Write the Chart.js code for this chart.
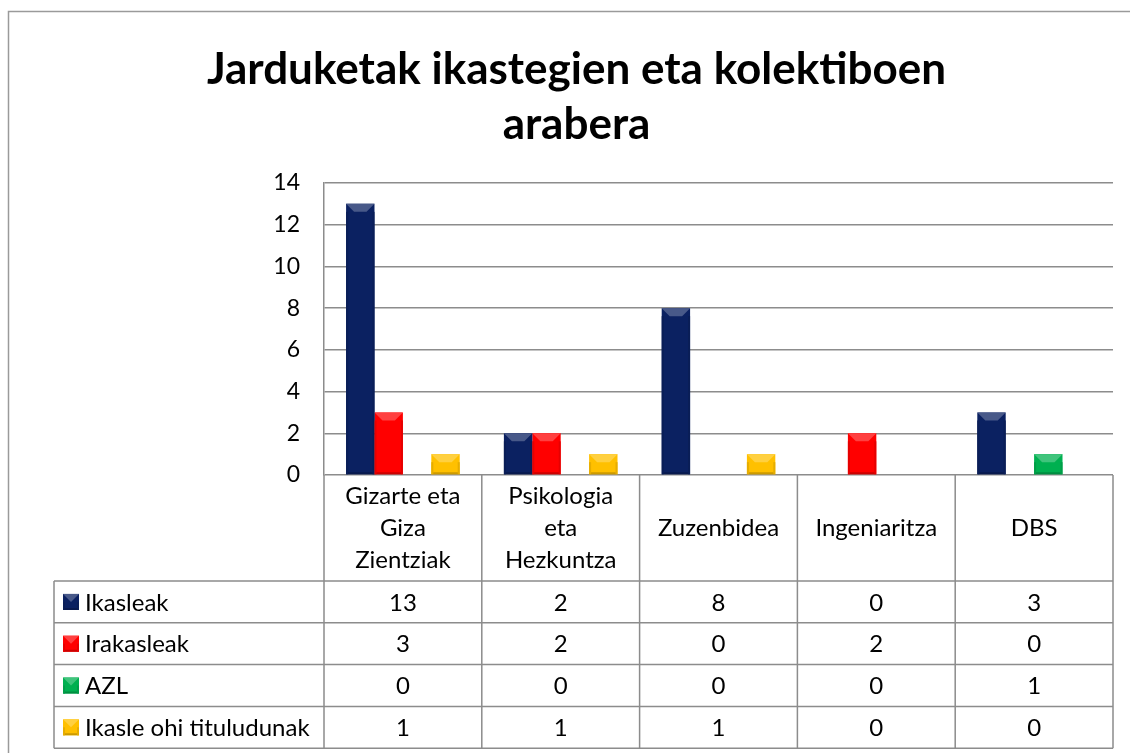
<!DOCTYPE html>
<html>
<head>
<meta charset="utf-8">
<script src="https://cdn.jsdelivr.net/npm/chart.js@4"></script>
<style>
  html, body { margin: 0; padding: 0; background: #fff; }
  #wrap { width: 1130px; height: 753px; }
</style>
</head>
<body>
<div id="wrap"><canvas id="chart" width="1130" height="753"></canvas></div>
<script>
const categories = [
  ["Gizarte eta", "Giza", "Zientziak"],
  ["Psikologia", "eta", "Hezkuntza"],
  ["Zuzenbidea"],
  ["Ingeniaritza"],
  ["DBS"]
];
const seriesNames = ["Ikasleak", "Irakasleak", "AZL", "Ikasle ohi tituludunak"];
const ikasleak = [13, 2, 8, 0, 3];
const irakasleak = [3, 2, 0, 2, 0];
const azl = [0, 0, 0, 0, 1];
const ikasleOhi = [1, 1, 1, 0, 0];
const yTicks = [0, 2, 4, 6, 8, 10, 12, 14];
const colors = ["#0b2161", "#ff0000", "#00b050", "#ffc000"];

const FONT = "Lato, 'Noto Sans', sans-serif";
const GRID = "#8c8c8c";

function shade(hex, amt) {
  const n = parseInt(hex.slice(1), 16);
  let r = (n >> 16) & 255, g = (n >> 8) & 255, b = n & 255;
  const f = c => Math.max(0, Math.min(255, Math.round(amt > 0 ? c + (255 - c) * amt : c * (1 + amt))));
  return "rgb(" + f(r) + "," + f(g) + "," + f(b) + ")";
}

function bevel(ctx, l, t, w, h, color) {
  if (h <= 0.5) return;
  const b = Math.min(8, h / 2, w / 2);
  ctx.save();
  ctx.fillStyle = shade(color, 0.25);
  ctx.beginPath();
  ctx.moveTo(l, t); ctx.lineTo(l + w, t); ctx.lineTo(l + w - b, t + b); ctx.lineTo(l + b, t + b);
  ctx.closePath(); ctx.fill();
  ctx.fillStyle = shade(color, -0.2);
  ctx.beginPath();
  ctx.moveTo(l, t + h); ctx.lineTo(l + w, t + h); ctx.lineTo(l + w - 2, t + h - 2); ctx.lineTo(l + 2, t + h - 2);
  ctx.closePath(); ctx.fill();
  ctx.fillStyle = shade(color, -0.1);
  ctx.fillRect(l, t + b, 2, h - b);
  ctx.fillRect(l + w - 2, t + b, 2, h - b);
  ctx.restore();
}

const frame = {
  id: "frame",
  beforeDraw(chart) {
    const ctx = chart.ctx;
    ctx.save();
    ctx.strokeStyle = "#9a9a9a";
    ctx.lineWidth = 1.5;
    ctx.strokeRect(8.5, 11.5, 1200, 800);
    ctx.restore();
  }
};

const barBevel = {
  id: "barBevel",
  afterDatasetsDraw(chart) {
    const ctx = chart.ctx;
    chart.data.datasets.forEach((ds, i) => {
      chart.getDatasetMeta(i).data.forEach(bar => {
        const w = bar.width, l = bar.x - w / 2;
        const t = Math.min(bar.y, bar.base), h = Math.abs(bar.base - bar.y);
        bevel(ctx, l, t, w, h, ds.backgroundColor);
      });
    });
  }
};

const dataTable = {
  id: "dataTable",
  afterDraw(chart) {
    const ctx = chart.ctx;
    const area = chart.chartArea;
    const xs = chart.scales.x;
    const n = categories.length;
    const cw = (area.right - area.left) / n;
    const top = area.bottom;
    const headH = 106;
    const rowH = 41.8;
    const tableLeft = 54;
    const rowsTop = top + headH;
    const bottom = rowsTop + rowH * seriesNames.length;

    ctx.save();
    ctx.strokeStyle = GRID;
    ctx.lineWidth = 1.5;
    ctx.beginPath();
    for (let i = 0; i <= n; i++) {
      const x = area.left + cw * i;
      ctx.moveTo(x, top); ctx.lineTo(x, bottom);
    }
    ctx.moveTo(tableLeft, rowsTop); ctx.lineTo(tableLeft, bottom);
    for (let r = 0; r <= seriesNames.length; r++) {
      const y = rowsTop + rowH * r;
      ctx.moveTo(tableLeft, y); ctx.lineTo(area.right, y);
    }
    ctx.stroke();

    ctx.fillStyle = "#000";
    ctx.font = "24px " + FONT;
    ctx.textAlign = "center";
    ctx.textBaseline = "middle";
    categories.forEach((lines, i) => {
      const cx = xs.getPixelForValue(i);
      const lh = 32;
      const y0 = top + headH / 2 - (lines.length - 1) * lh / 2;
      lines.forEach((s, k) => ctx.fillText(s, cx, y0 + k * lh));
    });

    const series = chart.data.datasets;
    series.forEach((ds, r) => {
      const cy = rowsTop + rowH * r + rowH / 2;
      ctx.fillStyle = ds.backgroundColor;
      ctx.fillRect(63, cy - 8, 16, 16);
      bevel(ctx, 63, cy - 8, 16, 16, ds.backgroundColor);
      ctx.fillStyle = "#000";
      ctx.textAlign = "left";
      ctx.fillText(ds.label, 85, cy + 1);
      ctx.textAlign = "center";
      ds.data.forEach((v, i) => ctx.fillText(String(v), xs.getPixelForValue(i), cy + 1));
    });
    ctx.restore();
  }
};

new Chart(document.getElementById("chart").getContext("2d"), {
  type: "bar",
  data: {
    labels: categories,
    datasets: [
      { label: seriesNames[0], data: ikasleak, backgroundColor: colors[0] },
      { label: seriesNames[1], data: irakasleak, backgroundColor: colors[1] },
      { label: seriesNames[2], data: azl, backgroundColor: colors[2] },
      { label: seriesNames[3], data: ikasleOhi, backgroundColor: colors[3] }
    ]
  },
  options: {
    responsive: false,
    animation: false,
    devicePixelRatio: 1,
    layout: { padding: { left: 40, right: 17, top: 20, bottom: 278 } },
    datasets: { bar: { categoryPercentage: 0.72, barPercentage: 1.0, borderWidth: 0 } },
    scales: {
      x: { display: false },
      y: {
        min: 0,
        max: 14,
        afterFit(s) { s.width = 284; },
        afterBuildTicks(s) { s.ticks = yTicks.map(v => ({ value: v })); },
        grid: { color: GRID, lineWidth: 1.5, drawTicks: false },
        border: { display: true, color: GRID, width: 1.5 },
        ticks: { padding: 24, color: "#000", font: { family: FONT, size: 23 } }
      }
    },
    plugins: {
      legend: { display: false },
      tooltip: { enabled: false },
      title: {
        display: true,
        text: ["Jarduketak ikastegien eta kolektiboen", "arabera"],
        color: "#000",
        font: { family: FONT, size: 44, weight: "bold", lineHeight: 1.25 },
        padding: { top: 22, bottom: 31 }
      }
    }
  },
  plugins: [frame, barBevel, dataTable]
});
</script>
</body>
</html>
